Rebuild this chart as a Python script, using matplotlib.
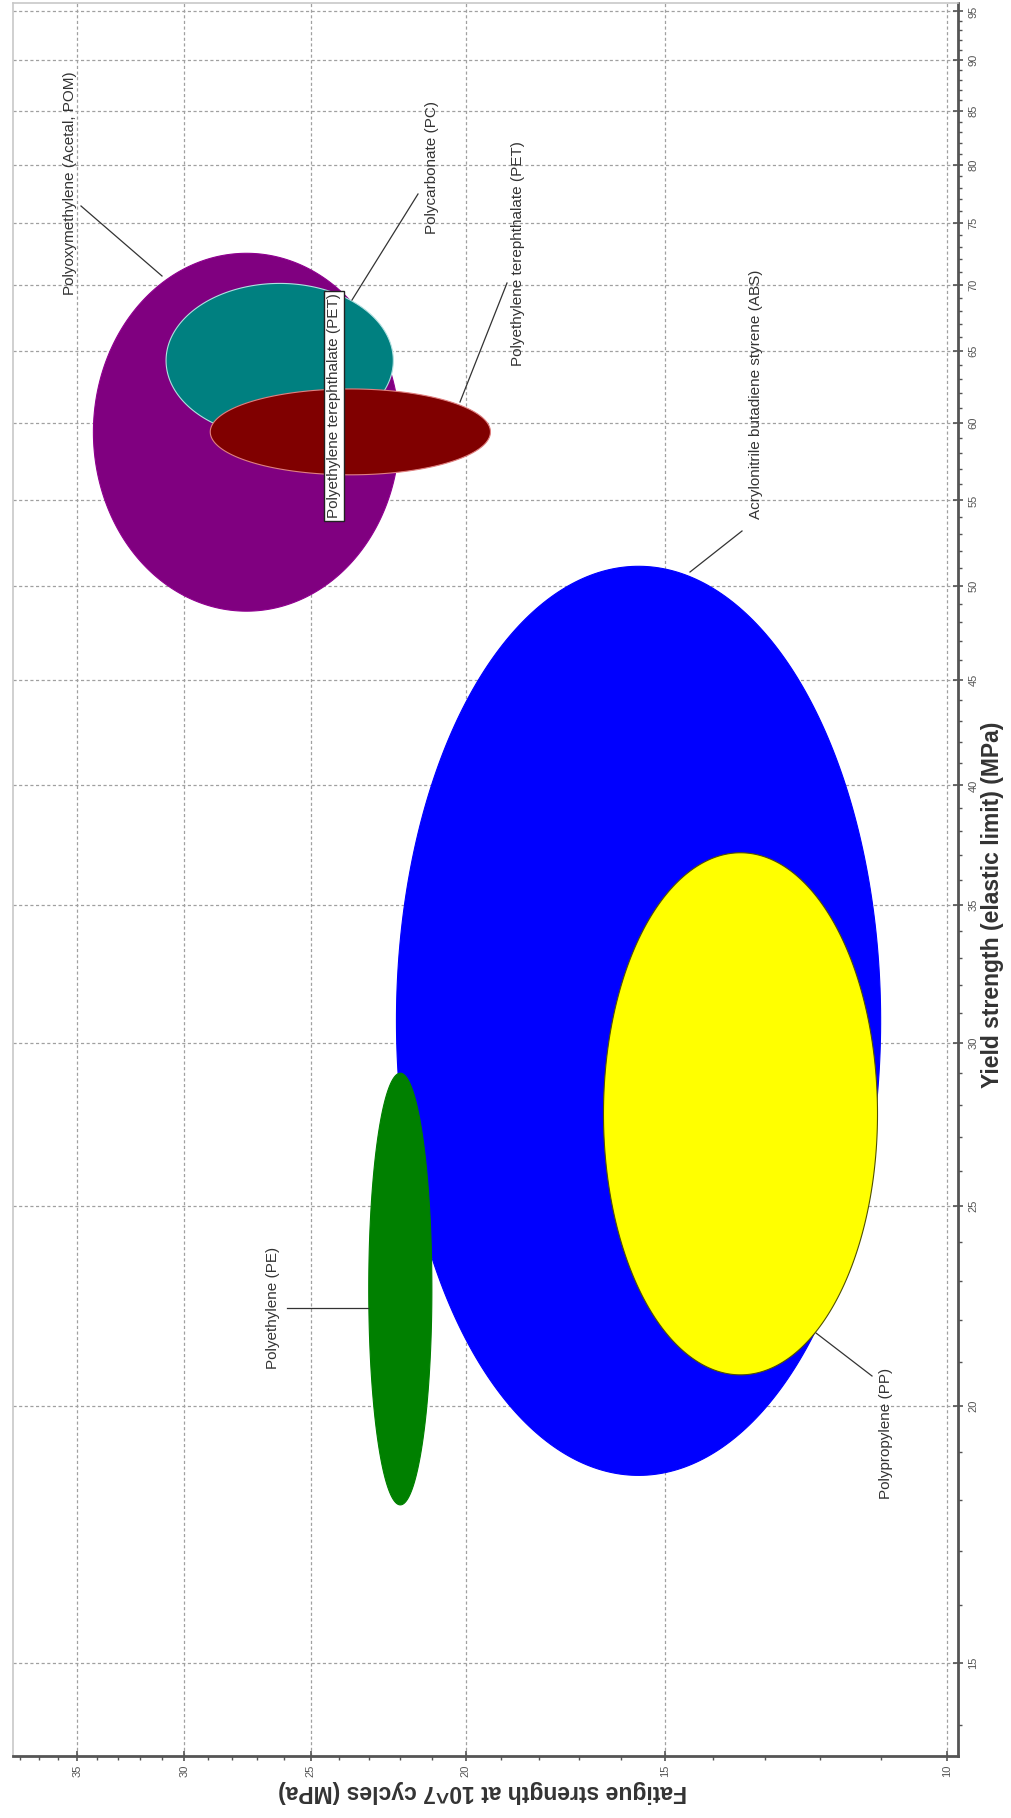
import numpy as np
import matplotlib
matplotlib.use("Agg")
import matplotlib.pyplot as plt
from matplotlib.ticker import FixedLocator, NullFormatter, FixedFormatter

plt.rcParams['font.family'] = ['Liberation Sans', 'DejaVu Sans']

# Material property ranges (MPa): fatigue strength at 10^7 cycles and yield strength
materials = ["Acrylonitrile butadiene styrene (ABS)", "Polypropylene (PP)",
             "Polyethylene (PE)", "Polyoxymethylene (Acetal, POM)",
             "Polycarbonate (PC)", "Polyethylene terephthalate (PET)"]
fatigue_lo = [11.0, 11.05, 21.0, 22.0, 22.2, 19.3]
fatigue_hi = [22.1, 16.4, 23.0, 34.2, 30.8, 28.9]
yield_lo = [18.5, 20.7, 17.9, 48.6, 59.0, 56.6]
yield_hi = [51.1, 37.1, 29.0, 72.5, 70.1, 62.3]
fill_colors = ["#0000ff", "#ffff00", "#008000", "#800080", "#008080", "#800000"]
edge_colors = ["#0000ff", "#505000", "#008000", "#900090", "#b0e0e0", "#e08080"]

fatigue_ticks = [10, 15, 20, 25, 30, 35]
yield_ticks = [15, 20, 25, 30, 35, 40, 45, 50, 55, 60, 65, 70, 75, 80, 85, 90, 95]
fatigue_limits = (38.4, 9.84)
yield_limits = (13.52, 95.9)

W, H = 1011, 1818
fig = plt.figure(figsize=(W / 100, H / 100), dpi=100)
ax = fig.add_axes([13 / W, 1 - 1756 / H, 945 / W, 1753 / H])
ax.set_xscale('log')
ax.set_yscale('log')
ax.set_xlim(*fatigue_limits)
ax.set_ylim(*yield_limits)


def fp(x, y):
    """Figure-pixel position (origin top-left) to figure fraction."""
    return (x / W, 1 - y / H)


# Property envelopes: ellipses in log-log space
t = np.linspace(0, 2 * np.pi, 400)
for flo, fhi, ylo, yhi, fc, ec in zip(fatigue_lo, fatigue_hi, yield_lo, yield_hi,
                                      fill_colors, edge_colors):
    cf, af = (np.log10(flo) + np.log10(fhi)) / 2, (np.log10(fhi) - np.log10(flo)) / 2
    cy, ay = (np.log10(ylo) + np.log10(yhi)) / 2, (np.log10(yhi) - np.log10(ylo)) / 2
    ax.fill(10 ** (cf + af * np.cos(t)), 10 ** (cy + ay * np.sin(t)),
            facecolor=fc, edgecolor=ec, lw=0.8, zorder=3)

# Axes styling
ax.xaxis.set_major_locator(FixedLocator(fatigue_ticks))
ax.xaxis.set_major_formatter(FixedFormatter([str(v) for v in fatigue_ticks]))
ax.xaxis.set_minor_locator(FixedLocator(np.arange(10, 39)))
ax.xaxis.set_minor_formatter(NullFormatter())
ax.yaxis.set_major_locator(FixedLocator(yield_ticks))
ax.yaxis.set_major_formatter(FixedFormatter([str(v) for v in yield_ticks]))
ax.yaxis.set_minor_locator(FixedLocator(np.arange(14, 96)))
ax.yaxis.set_minor_formatter(NullFormatter())
ax.yaxis.tick_right()

ax.tick_params(which='major', direction='inout', length=7, width=1.2, color='#555555',
               labelsize=8, labelcolor='#555555', labelrotation=90)
ax.tick_params(which='minor', direction='out', length=3, width=1.0, color='#555555')
ax.tick_params(axis='x', which='major', pad=3)
ax.tick_params(axis='y', which='major', pad=4)
for lbl in ax.get_yticklabels():
    lbl.set_va('center')
    lbl.set_ha('left')

ax.grid(True, which='major', color='#a0a0a0', linestyle=(0, (2.5, 2)), lw=0.9, zorder=0)
ax.set_axisbelow(True)

for side in ('left', 'top'):
    ax.spines[side].set_color('#c8c8c8')
    ax.spines[side].set_linewidth(1.2)
for side in ('right', 'bottom'):
    ax.spines[side].set_color('#555555')
    ax.spines[side].set_linewidth(2.0)

# Axis titles
fig.text(*fp(483, 1791), "Fatigue strength at 10^7 cycles (MPa)", rotation=180,
         ha='center', va='center', fontsize=16.5, fontweight='bold', color='#333333')
fig.text(*fp(993, 905), "Yield strength (elastic limit) (MPa)", rotation=90,
         ha='center', va='center', fontsize=16.5, fontweight='bold', color='#333333')

# Material labels with leader lines
label_style = dict(rotation=90, ha='center', va='center', fontsize=11, color='#333333')
annotations = [
    ("Polyoxymethylene (Acetal, POM)", (70, 183), (81, 206), (162, 276)),
    ("Polycarbonate (PC)", (432, 168), (418, 194), (352, 300)),
    ("Polyethylene terephthalate (PET)", (518, 254), (507, 283), (460, 402)),
    ("Acrylonitrile butadiene styrene (ABS)", (756, 394), (742, 531), (690, 572)),
    ("Polyethylene (PE)", (273, 1308), (287, 1308), (368, 1308)),
    ("Polypropylene (PP)", (886, 1433), (872, 1376), (816, 1333)),
]
for text, pos, start, end in annotations:
    fig.text(*fp(*pos), text, **label_style)
    fig.add_artist(plt.Line2D([fp(*start)[0], fp(*end)[0]], [fp(*start)[1], fp(*end)[1]],
                              color='#333333', lw=0.9, transform=fig.transFigure, zorder=5))

fig.text(*fp(334, 406), "Polyethylene terephthalate (PET)", zorder=6,
         bbox=dict(boxstyle='square,pad=0.2', facecolor='white', edgecolor='#222222', lw=1.0),
         **label_style)

fig.savefig("out.png", dpi=100)
